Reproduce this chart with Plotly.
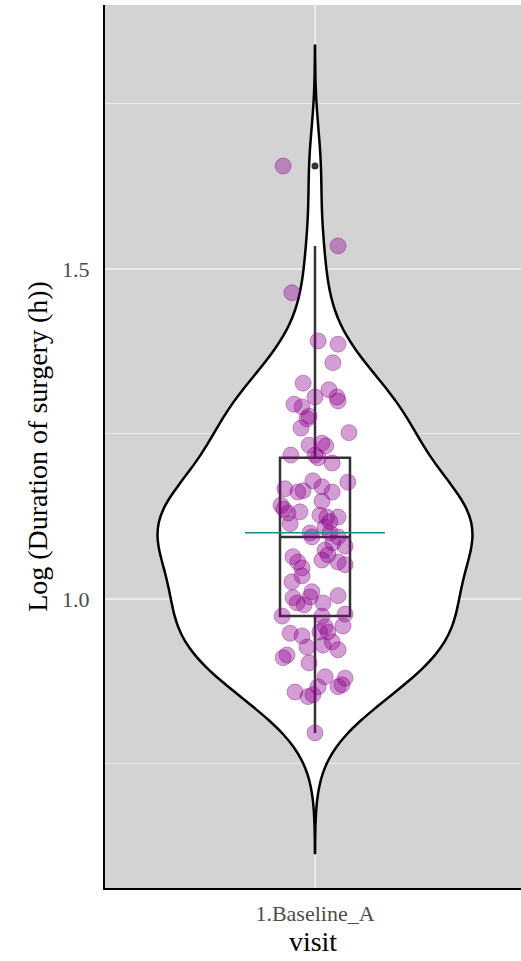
import numpy as np
import plotly.graph_objects as go

# ---- data ----
category = "1.Baseline_A"
log_duration = [
    1.656, 1.535, 1.464, 1.391, 1.386, 1.358, 1.327, 1.317, 1.306, 1.306,
    1.300, 1.295, 1.291, 1.277, 1.273, 1.259, 1.252, 1.233, 1.236, 1.232,
    1.218, 1.218, 1.214, 1.206, 1.177, 1.179, 1.170, 1.162, 1.167, 1.162,
    1.164, 1.148, 1.142, 1.136, 1.130, 1.132, 1.127, 1.124, 1.117, 1.124,
    1.114, 1.109, 1.100, 1.094, 1.100, 1.094, 1.085, 1.080, 1.074, 1.067,
    1.059, 1.056, 1.052, 1.064, 1.056, 1.047, 1.035, 1.026, 1.011, 1.003,
    1.002, 0.994, 0.991, 0.994, 1.005, 0.974, 0.974, 0.977, 0.958, 0.950,
    0.950, 0.959, 0.948, 0.944, 0.927, 0.930, 0.935, 0.923, 0.915, 0.911,
    0.903, 0.882, 0.880, 0.870, 0.867, 0.867, 0.855, 0.859, 0.852, 0.797,
]
jitter_offset = [
    -0.091, 0.066, -0.066, 0.009, 0.066, 0.051, -0.034, 0.040, 0.000, 0.063,
    0.066, -0.060, -0.037, -0.017, -0.023, -0.040, 0.097, -0.017, 0.020, 0.031,
    -0.069, 0.000, 0.009, 0.049, 0.094, -0.006, 0.020, 0.049, -0.086, -0.049,
    -0.034, 0.020, -0.097, -0.089, -0.077, -0.043, 0.014, 0.034, 0.043, 0.066,
    -0.071, 0.029, -0.014, -0.009, 0.043, 0.066, 0.051, 0.086, 0.029, 0.037,
    0.020, 0.066, 0.086, -0.063, -0.049, -0.037, -0.037, -0.066, -0.009, -0.014,
    -0.063, -0.051, -0.031, 0.023, 0.066, -0.094, 0.020, 0.086, 0.029, 0.037,
    0.014, 0.080, -0.071, -0.037, -0.023, 0.023, 0.049, 0.066, -0.080, -0.091,
    -0.017, 0.029, 0.086, 0.077, 0.066, 0.009, -0.006, -0.057, -0.020, 0.000,
]
y_tickvals = [1.0, 1.5]
y_ticktext = ["1.0", "1.5"]
y_minor = [0.75, 1.25, 1.75]

y = np.array(log_duration)
n = len(y)
q1, q3 = np.percentile(y, [25, 75])
bw = 0.9 * min(y.std(ddof=1), (q3 - q1) / 1.34) * n ** (-0.2)
mean_val = y.mean()

SERIF = "Liberation Serif, Times New Roman, serif"
pt_col = "rgba(139,0,139,0.38)"

fig = go.Figure()
fig.add_trace(go.Violin(
    y=y, x0=0, width=0.9, bandwidth=bw, spanmode="manual",
    span=[y.min() - 3 * bw, y.max() + 3 * bw],
    fillcolor="white", line=dict(color="black", width=2.5),
    points=False, box_visible=False, meanline_visible=False,
    showlegend=False, hoverinfo="skip",
))
fig.add_trace(go.Box(
    y=y, x0=0, width=0.2, fillcolor="rgba(255,255,255,0)",
    line=dict(color="#333333", width=2.5), whiskerwidth=0,
    boxpoints="outliers", jitter=0, pointpos=0,
    marker=dict(color="#333333", size=7),
    showlegend=False,
))
fig.add_trace(go.Scatter(
    x=jitter_offset, y=log_duration, mode="markers",
    marker=dict(size=16, color=pt_col, line=dict(color=pt_col, width=1)),
    showlegend=False,
))
fig.add_trace(go.Scatter(
    x=[-0.2, 0.2], y=[mean_val, mean_val], mode="lines",
    line=dict(color="#1a8a8a", width=1.5), showlegend=False,
))

fig.update_layout(
    width=521, height=961,
    margin=dict(l=105, r=0, t=5, b=73, autoexpand=False),
    paper_bgcolor="white", plot_bgcolor="#D3D3D3",
    violinmode="overlay", boxmode="overlay",
    font=dict(family=SERIF),
    showlegend=False,
)
fig.update_xaxes(
    type="linear", range=[-0.6, 0.5886], automargin=False,
    tickvals=[0], ticktext=[category],
    tickfont=dict(size=22, color="#4D4D4D", family=SERIF),
    ticks="", ticklabelstandoff=5,
    showgrid=True, gridcolor="#EBEBEB", gridwidth=2,
    zeroline=False, showline=True, linecolor="black", linewidth=2,
    title=dict(text="visit", font=dict(size=28, color="black", family=SERIF), standoff=2),
)
fig.update_yaxes(
    range=[0.562, 1.9], automargin=False,
    tickvals=y_tickvals, ticktext=y_ticktext,
    tickfont=dict(size=22, color="#4D4D4D", family=SERIF),
    ticks="", ticklabelstandoff=9,
    showgrid=True, gridcolor="#EBEBEB", gridwidth=2,
    minor=dict(tickvals=y_minor, showgrid=True, gridcolor="#EBEBEB", gridwidth=1),
    zeroline=False, showline=True, linecolor="black", linewidth=2,
    title=dict(text="Log (Duration of surgery (h))", font=dict(size=28, color="black", family=SERIF), standoff=6),
)
fig.write_html(
    "out.html",
    config={"displayModeBar": False},
    post_script="document.body.style.margin='0';document.body.style.overflow='hidden';",
)
